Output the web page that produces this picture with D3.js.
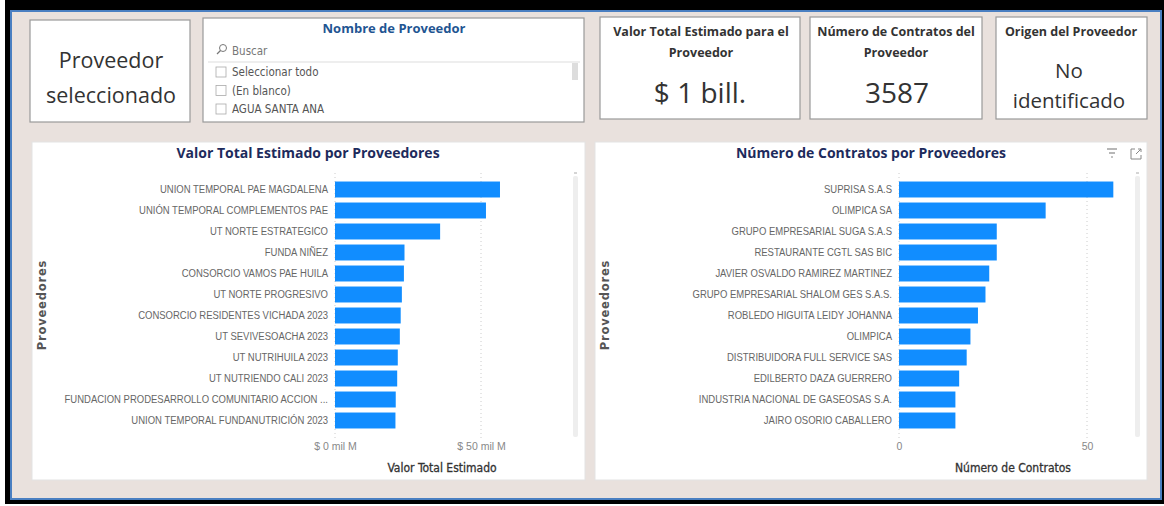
<!DOCTYPE html>
<html>
<head>
<meta charset="utf-8">
<script src="https://cdn.jsdelivr.net/npm/d3@7"></script>
<style>
  body { margin: 0; background: #fff; }
  svg { display: block; font-family: "Liberation Sans Narrow", "DejaVu Sans Condensed", "Open Sans", sans-serif; }
</style>
</head>
<body>
<svg id="dash" width="1164" height="506"></svg>
<script>
// datos
var proveedoresValor = ["UNION TEMPORAL PAE MAGDALENA", "UNIÓN TEMPORAL COMPLEMENTOS PAE", "UT NORTE ESTRATEGICO",
  "FUNDA NIÑEZ", "CONSORCIO VAMOS PAE HUILA", "UT NORTE PROGRESIVO", "CONSORCIO RESIDENTES VICHADA 2023",
  "UT SEVIVESOACHA 2023", "UT NUTRIHUILA 2023", "UT NUTRIENDO CALI 2023",
  "FUNDACION PRODESARROLLO COMUNITARIO ACCION ...", "UNION TEMPORAL FUNDANUTRICIÓN 2023"];
// miles de millones
var valorTotal = [56.5, 51.7, 36.0, 23.8, 23.6, 22.9, 22.5, 22.2, 21.5, 21.3, 20.8, 20.7];
var valorTicks = [0, 50];

var proveedoresContratos = ["SUPRISA S.A.S", "OLIMPICA SA", "GRUPO EMPRESARIAL SUGA S.A.S", "RESTAURANTE CGTL SAS BIC",
  "JAVIER OSVALDO RAMIREZ MARTINEZ", "GRUPO EMPRESARIAL SHALOM GES S.A.S.", "ROBLEDO HIGUITA LEIDY JOHANNA",
  "OLIMPICA", "DISTRIBUIDORA FULL SERVICE SAS", "EDILBERTO DAZA GUERRERO",
  "INDUSTRIA NACIONAL DE GASEOSAS S.A.", "JAIRO OSORIO CABALLERO"];
var numContratos = [57, 39, 26, 26, 24, 23, 21, 19, 18, 16, 15, 15];
var contratosTicks = [0, 50];

var slicerItems = ["Seleccionar todo", "(En blanco)", "AGUA SANTA ANA"];

var svg = d3.select("#dash");
var blue = "#118DFF", navy = "#1d2b5c", grey = "#666";

// marco
svg.append("rect").attr("x", 5).attr("y", 0).attr("width", 1159).attr("height", 504).attr("fill", "#000");
svg.append("rect").attr("x", 10).attr("y", 10).attr("width", 1152).attr("height", 490).attr("fill", "#4a7fc1");
svg.append("rect").attr("x", 12).attr("y", 12).attr("width", 1148).attr("height", 486).attr("fill", "#e9e1dd");

function box(x, y, w, h) {
  svg.append("rect").attr("x", x).attr("y", y).attr("width", w).attr("height", h)
    .attr("fill", "#fff").attr("stroke", "#9a9a9a").attr("stroke-width", 1.2);
}
function text(x, y, s, size, opts) {
  opts = opts || {};
  return svg.append("text").attr("x", x).attr("y", y).text(s)
    .attr("font-size", size).attr("text-anchor", opts.anchor || "middle")
    .attr("font-weight", opts.weight || "normal")
    .attr("fill", opts.fill || "#333")
    .attr("font-family", opts.family || null);
}

// tarjetas
var cardFont = "'Open Sans', 'Noto Sans', sans-serif";
box(30, 20, 160, 102);
text(111, 68, "Proveedor", 21.5, {family: cardFont, fill: "#333"});
text(111, 103, "seleccionado", 21.5, {family: cardFont, fill: "#333"});

box(600, 17, 200, 102);
text(701, 36, "Valor Total Estimado para el", 12.5, {weight: "bold", fill: "#333", family: cardFont});
text(701, 57, "Proveedor", 12.5, {weight: "bold", fill: "#333", family: cardFont});
text(700, 103, "$ 1 bill.", 28, {fill: "#333", family: cardFont});

box(810, 17, 172, 102);
text(896, 36, "Número de Contratos del", 12.5, {weight: "bold", fill: "#333", family: cardFont});
text(896, 57, "Proveedor", 12.5, {weight: "bold", fill: "#333", family: cardFont});
text(897, 103, "3587", 28, {fill: "#333", family: cardFont});

box(996, 17, 151, 102);
text(1071, 36, "Origen del Proveedor", 12.5, {weight: "bold", fill: "#333", family: cardFont});
text(1069, 78, "No", 20.5, {fill: "#333", family: cardFont});
text(1069, 108, "identificado", 20.5, {fill: "#333", family: cardFont});

// segmentador
box(203, 18, 381, 104);
text(394, 33, "Nombre de Proveedor", 13, {weight: "bold", fill: "#1f5592", family: cardFont});
var lupa = svg.append("g").attr("transform", "translate(220,51)").attr("stroke", "#777").attr("fill", "none");
lupa.append("circle").attr("cx", 3).attr("cy", -3).attr("r", 3.5).attr("stroke-width", 1);
lupa.append("line").attr("x1", 0.5).attr("y1", -0.5).attr("x2", -3).attr("y2", 3).attr("stroke-width", 1.2);
text(232, 55, "Buscar", 11.5, {anchor: "start", fill: "#777"});
svg.append("line").attr("x1", 208).attr("x2", 580).attr("y1", 62).attr("y2", 62).attr("stroke", "#ddd");
svg.append("rect").attr("x", 572).attr("y", 63).attr("width", 6).attr("height", 17).attr("fill", "#ddd");
slicerItems.forEach(function (s, i) {
  var cy = 72 + i * 18.5;
  svg.append("rect").attr("x", 216).attr("y", cy - 5).attr("width", 10).attr("height", 10)
    .attr("fill", "#fff").attr("stroke", "#aaa").attr("stroke-width", 0.8);
  text(232, cy + 4, s, 11.5, {anchor: "start", fill: "#555"});
});

// graficos de barras
function barChart(o) {
  var g = svg.append("g");
  g.append("rect").attr("x", o.x0).attr("y", 142).attr("width", o.x1 - o.x0).attr("height", 338)
    .attr("fill", "#fff").attr("stroke", "#e3e3e3");
  g.append("text").attr("x", o.titleX).attr("y", 158).attr("text-anchor", "middle")
    .attr("font-size", 14).attr("font-weight", "bold").attr("fill", navy)
    .attr("font-family", "'Open Sans', sans-serif").text(o.title);

  var x = d3.scaleLinear().domain([0, 50]).range(o.xr);
  var y = d3.scaleBand().domain(o.names).range([179, 431]).paddingInner(0.24).paddingOuter(0.12);

  // grid
  g.selectAll(".grid").data(o.ticks).join("line")
    .attr("x1", function (d) { return x(d); }).attr("x2", function (d) { return x(d); })
    .attr("y1", 173).attr("y2", 438).attr("stroke", "#ccc").attr("stroke-dasharray", "1,3");

  g.selectAll(".bar").data(o.values).join("rect")
    .attr("x", x(0)).attr("y", function (d, i) { return y(o.names[i]); })
    .attr("width", function (d) { return x(d) - x(0); }).attr("height", y.bandwidth())
    .attr("fill", blue);

  var ya = g.append("g").attr("transform", "translate(" + (x(0) - 7) + ",0)")
    .call(d3.axisLeft(y).tickSize(0).tickPadding(0));
  ya.select(".domain").remove();
  ya.selectAll("text").attr("font-size", 10.8).attr("fill", "#666").attr("font-family", null)
    .attr("transform", "scale(0.88,1)");

  var xa = g.append("g").attr("transform", "translate(0,443)")
    .call(d3.axisBottom(x).tickValues(o.ticks).tickSize(0).tickPadding(0).tickFormat(o.fmt));
  xa.select(".domain").remove();
  xa.selectAll("text").attr("font-size", 10.5).attr("fill", "#888").attr("font-family", null);

  g.append("text").attr("x", o.axisX).attr("y", 472).attr("text-anchor", "middle")
    .attr("font-size", 12).attr("fill", "#333").attr("stroke", "#333").attr("stroke-width", 0.3)
    .text(o.axisTitle);
  g.append("text").attr("transform", "translate(" + (o.x0 + 14) + ",305) rotate(-90)")
    .attr("text-anchor", "middle").attr("font-size", 11.5).attr("font-weight", "bold")
    .attr("letter-spacing", 0.8).attr("fill", "#555").attr("font-family", "'DejaVu Sans', sans-serif")
    .text("Proveedores");

  // scrollbar
  g.append("rect").attr("x", o.x1 - 12).attr("y", 176).attr("width", 5).attr("height", 261)
    .attr("rx", 2).attr("fill", "#eeeeee");
  g.append("line").attr("x1", o.x1 - 11).attr("x2", o.x1 - 8).attr("y1", 173).attr("y2", 173)
    .attr("stroke", "#aaa");
}

barChart({
  x0: 32, x1: 585, titleX: 308, title: "Valor Total Estimado por Proveedores",
  names: proveedoresValor, values: valorTotal, ticks: valorTicks, xr: [335, 481],
  fmt: function (d) { return "$ " + d + " mil M"; }, axisTitle: "Valor Total Estimado", axisX: 442
});
barChart({
  x0: 595, x1: 1147, titleX: 871, title: "Número de Contratos por Proveedores",
  names: proveedoresContratos, values: numContratos, ticks: contratosTicks, xr: [899, 1087],
  fmt: function (d) { return d; }, axisTitle: "Número de Contratos", axisX: 1013
});

// iconos
var fi = svg.append("g").attr("stroke", "#888").attr("stroke-width", 1.2);
fi.append("line").attr("x1", 1107).attr("x2", 1117).attr("y1", 149).attr("y2", 149);
fi.append("line").attr("x1", 1109).attr("x2", 1115).attr("y1", 153).attr("y2", 153);
fi.append("line").attr("x1", 1111).attr("x2", 1113).attr("y1", 157).attr("y2", 157);
var ex = svg.append("g").attr("stroke", "#888").attr("stroke-width", 1).attr("fill", "none");
ex.append("path").attr("d", "M1135,149 L1131,149 L1131,159 L1141,159 L1141,155");
ex.append("path").attr("d", "M1136,154 L1141,149 M1138,149 L1141,149 L1141,152");
</script>
</body>
</html>
